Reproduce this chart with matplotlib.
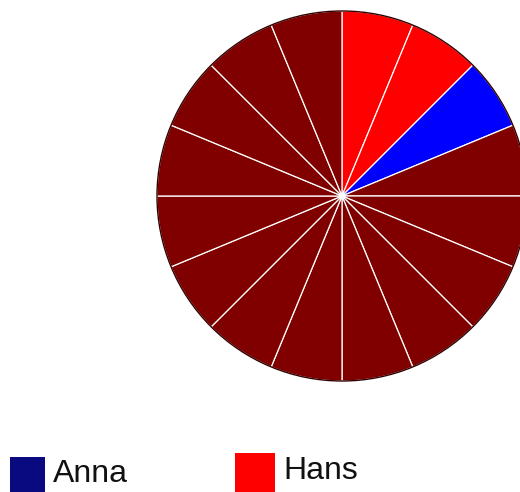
import matplotlib
matplotlib.use("Agg")
import matplotlib.pyplot as plt
from matplotlib.patches import Rectangle, Circle

# Data: 16 equal slices, clockwise from 12 o'clock
slice_values = [1] * 16
slice_colors = ["#ff0000", "#ff0000", "#0000ff"] + ["#800000"] * 13

legend_labels = ["Anna", "Hans"]
legend_colors = ["#0a0a80", "#ff0000"]

W, H = 520, 492
fig = plt.figure(figsize=(W / 100, H / 100), dpi=100)

cx, cy, r = 342, 196, 185
ax = fig.add_axes([(cx - r) / W, (H - cy - r) / H, 2 * r / W, 2 * r / H])
wedges, _ = ax.pie(slice_values, colors=slice_colors, startangle=90, counterclock=False,
                   radius=1.0, wedgeprops=dict(edgecolor="white", linewidth=0.9))
for w in wedges:
    w.set_clip_on(False)
ax.add_patch(Circle((0, 0), 1.0, fill=False, edgecolor="#300000", linewidth=1.0, clip_on=False))
ax.set_xlim(-1, 1)
ax.set_ylim(-1, 1)
ax.set_aspect("equal")
ax.axis("off")

# Legend (manually placed, bottom partially cut off)
def px_rect(x0, y0, x1, y1, color):
    fig.patches.append(Rectangle((x0 / W, 1 - y1 / H), (x1 - x0) / W, (y1 - y0) / H,
                                 transform=fig.transFigure, facecolor=color, edgecolor="none"))

px_rect(10, 457, 45, 495, legend_colors[0])
fig.text(53 / W, 1 - 474 / H, legend_labels[0], fontsize=23, family="Liberation Sans",
         va="center", ha="left", color="#111111")
px_rect(235, 453, 275, 495, legend_colors[1])
fig.text(283 / W, 1 - 471 / H, legend_labels[1], fontsize=23, family="Liberation Sans",
         va="center", ha="left", color="#111111")

fig.savefig("out.png", dpi=100)
